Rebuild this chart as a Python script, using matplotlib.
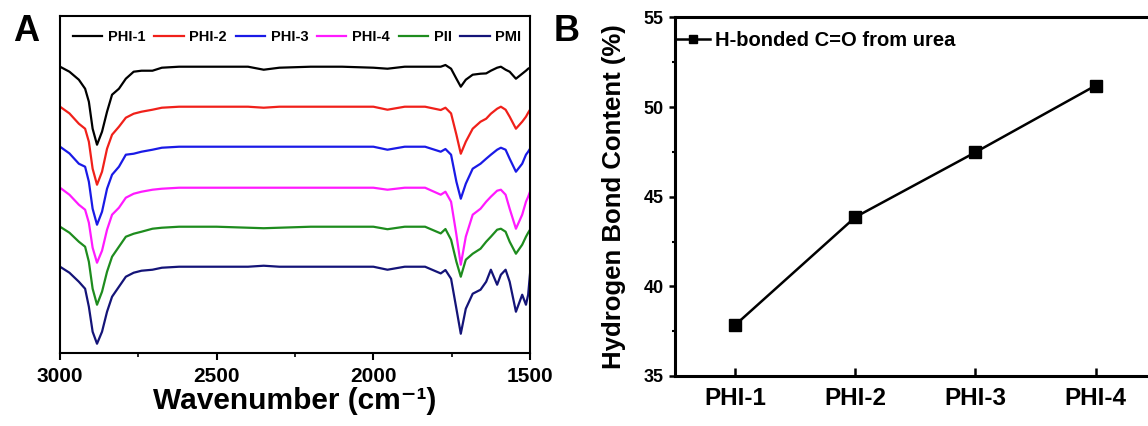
import numpy as np
import matplotlib
matplotlib.use('Agg')
import matplotlib.pyplot as plt
from matplotlib.ticker import MultipleLocator

plt.rcParams['font.family'] = ['Liberation Sans', 'DejaVu Sans']
plt.rcParams['font.weight'] = 'bold'

# ---- panel A: FTIR spectra (arbitrary transmittance units)
wn = [3000, 2970, 2940, 2920, 2908, 2896, 2882, 2866, 2850, 2834,
      2812, 2790, 2765, 2740, 2705, 2675, 2620, 2500, 2400, 2350,
      2300, 2200, 2100, 2000, 1955, 1900, 1835, 1785, 1770, 1752,
      1735, 1721, 1705, 1683, 1658, 1640, 1625, 1605, 1593, 1578,
      1565, 1545, 1525, 1513, 1506, 1500]

phi1 = [0, -5, -13, -22, -35, -62, -78, -65, -45, -28,
        -22, -12, -5, -4, -4, -1, 0, 0, 0, -3,
        -1, 0, 0, -1, -2, 0, 0, 0, 1.7, -2,
        -12, -20, -13, -8, -7, -6.7, -4, -1, 0, -3,
        -5, -12, -7, -4, -2, -1]
phi2 = [0, -6.7, -17, -22, -35, -62, -78, -65, -42, -28,
        -20, -11, -7, -5, -3, -1, 0, 0, 0, -1,
        0, 0, 0, 0, -3, 0, 0, -3.3, -1, -6.7,
        -28, -47, -35, -22, -15, -12, -7, -2, 0, -3,
        -10, -22, -15, -10, -6, -3]
phi3 = [0, -6.7, -17, -20, -35, -62, -78, -65, -42, -28,
        -20, -8, -7, -5, -3, -1, 0, 0, 0, 0,
        0, 0, 0, 0, -3, 0, 0, -5, -2.3, -8,
        -35, -52, -37, -22, -17, -12, -8, -3, -1, -3,
        -12, -25, -17, -8, -5, -2]
phi4 = [0, -7, -17, -22, -35, -60, -75, -63, -42, -27,
        -20, -10, -6, -4, -2, -1, 0, 0, 0, 0,
        0, 0, 0, 0, -2, 0, 0, -7, -4, -14,
        -47, -77, -49, -27, -21, -14, -9, -3, -2, -7,
        -21, -41, -27, -14, -9, -4]
pii = [0, -6, -15, -20, -35, -62, -78, -65, -45, -30,
       -20, -10, -7, -5, -2, -1, 0, 0, -1, -1.5,
       -1, 0, 0, 0, -2.5, 0, 0, -6.7, -2.3, -13,
       -35, -50, -33, -27, -22, -15, -10, -3, -2, -5,
       -15, -27, -18, -10, -6, -3]
pmi = [0, -6, -15, -22, -40, -65, -77, -65, -45, -30,
       -20, -10, -6, -4, -3, -1, 0, 0, 0, 1,
       0, 0, 0, 0, -3, 0, 0, -6.7, -3.3, -12,
       -42, -67, -42, -27, -23, -15, -3, -18, -8, -3,
       -15, -45, -28, -38, -28, -7]

spectra = [phi1, phi2, phi3, phi4, pii, pmi]
names = ['PHI-1', 'PHI-2', 'PHI-3', 'PHI-4', 'PII', 'PMI']
offsets = [0, -40, -80, -121, -160, -200]
colors = ['black', '#f0201a', '#1a1ae6', '#ff1aff', '#1e8c1e', '#141478']

# ---- panel B: hydrogen bond content
samples = ['PHI-1', 'PHI-2', 'PHI-3', 'PHI-4']
hb_content = [37.84, 43.86, 47.48, 51.2]

fig = plt.figure(figsize=(11.48, 4.26), dpi=100)

ax1 = fig.add_axes([0.0523, 0.172, 0.4094, 0.7916])
for s, n, off, c in zip(spectra, names, offsets, colors):
    ax1.plot(wn, np.array(s) + off, color=c, lw=1.6, label=n)
ax1.set_xlim(3000, 1500)
ax1.set_ylim(-286, 51.2)
ax1.set_yticks([])
ax1.xaxis.set_major_locator(MultipleLocator(500))
ax1.xaxis.set_minor_locator(MultipleLocator(250))
ax1.tick_params(axis='x', which='major', direction='out', length=5, width=1.5,
                labelsize=15, pad=5)
ax1.tick_params(axis='x', which='minor', direction='out', length=3, width=1.2)
for sp in ax1.spines.values():
    sp.set_linewidth(1.5)
ax1.set_xlabel('Wavenumber (cm\u207b\u00b9)', fontsize=21.5, fontweight='bold', labelpad=1)
ax1.legend(loc='center', bbox_to_anchor=(0.505, 0.935), ncol=6, frameon=False,
           fontsize=10.5, handlelength=2.0, handletextpad=0.4, columnspacing=0.6,
           borderpad=0, borderaxespad=0)

ax2 = fig.add_axes([0.588, 0.1174, 0.4187, 0.8416])
xpos = np.arange(1, len(samples) + 1)
ax2.plot(xpos, hb_content, color='black', lw=1.8, marker='s', markersize=8.5,
         label='H-bonded C=O from urea')
ax2.set_xlim(0.5, 4.5)
ax2.set_ylim(35, 55)
ax2.set_xticks(xpos)
ax2.set_xticklabels(samples)
ax2.yaxis.set_major_locator(MultipleLocator(5))
ax2.yaxis.set_minor_locator(MultipleLocator(2.5))
ax2.tick_params(axis='x', direction='in', length=6, width=1.8, labelsize=17.5, pad=8)
ax2.tick_params(axis='y', which='major', direction='out', length=4, width=1.8,
                labelsize=13, pad=4)
ax2.tick_params(axis='y', which='minor', direction='out', length=2.5, width=1.5)
for sp in ax2.spines.values():
    sp.set_linewidth(2.2)
ax2.set_ylabel('Hydrogen Bond Content (%)', fontsize=18.5, fontweight='bold')
ax2.yaxis.set_label_coords(-0.101, 0.5)
ax2.legend(loc='center left', bbox_to_anchor=(0.0, 0.937), frameon=False,
           fontsize=14.5, handlelength=1.75, handletextpad=0.25, markerscale=0.75,
           borderpad=0, borderaxespad=0)

fig.text(0.0226, 0.925, 'A', fontsize=26, fontweight='bold', ha='center', va='center')
fig.text(0.494, 0.925, 'B', fontsize=26, fontweight='bold', ha='center', va='center')

fig.savefig('out.png', dpi=100)
